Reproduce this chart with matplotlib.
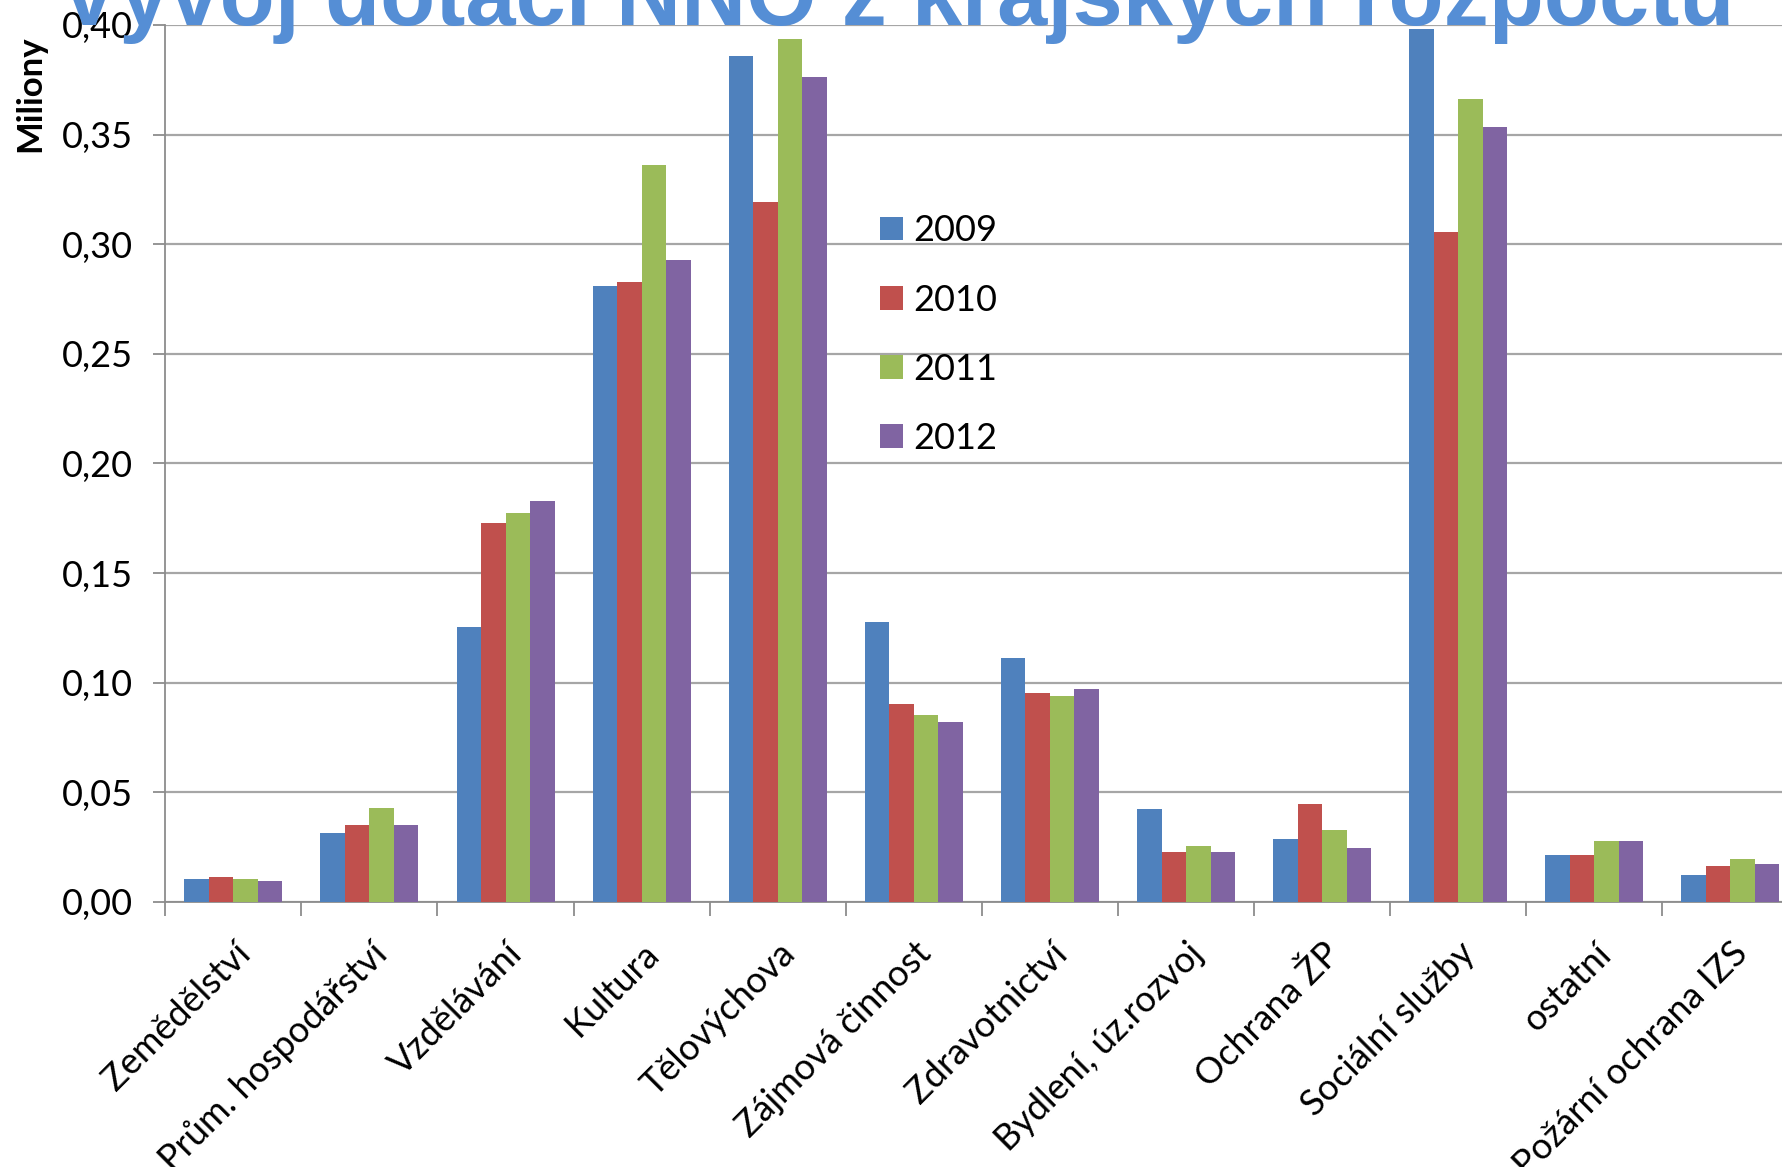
'''
Vyvoj dotaci NNO z krajskych rozpoctu - grouped bar chart
'''
import numpy as np
import matplotlib
matplotlib.use('Agg')
import matplotlib.pyplot as plt
from matplotlib.ticker import FuncFormatter

categories = ['Zemědělství', 'Prům. hospodářství', 'Vzdělávání', 'Kultura', 'Tělovýchova',
              'Zájmová činnost', 'Zdravotnictví', 'Bydlení, úz.rozvoj', 'Ochrana ŽP',
              'Sociální služby', 'ostatní', 'Požární ochrana IZS']
years = ['2009', '2010', '2011', '2012']

v2009 = [0.0103, 0.0315, 0.1253, 0.2810, 0.3856, 0.1277, 0.1115, 0.0425, 0.0287, 0.3983, 0.0216, 0.0124]
v2010 = [0.0116, 0.0352, 0.1730, 0.2826, 0.3194, 0.0904, 0.0951, 0.0229, 0.0445, 0.3056, 0.0216, 0.0166]
v2011 = [0.0103, 0.0427, 0.1775, 0.3360, 0.3934, 0.0851, 0.0938, 0.0257, 0.0328, 0.3660, 0.0280, 0.0194]
v2012 = [0.0096, 0.0352, 0.1827, 0.2930, 0.3763, 0.0823, 0.0973, 0.0229, 0.0244, 0.3535, 0.0280, 0.0173]

colors = ['#4F81BD', '#C0504D', '#9BBB59', '#8064A2']

plt.rcParams['font.family'] = ['Lato', 'DejaVu Sans']
FS = 26

W, H = 1782, 1167
fig = plt.figure(figsize=(W / 100, H / 100), dpi=100)
# axes run past the right edge of the picture, as in the cropped original
left, right = 165.3, 165.3 + 12 * 136.1
bottom, top = 902.0, 24.9
ax = fig.add_axes([left / W, 1 - bottom / H, (right - left) / W, (bottom - top) / H])

x = np.arange(len(categories))
bw = 0.18
series = [v2009, v2010, v2011, v2012]
for i, (vals, c, yr) in enumerate(zip(series, colors, years)):
    ax.bar(x + (i - 1.5) * bw, vals, bw, color=c, label=yr, zorder=3)

ax.set_xlim(-0.5, len(categories) - 0.5)
ax.set_ylim(0, 0.40)
ax.set_yticks(np.arange(0, 0.401, 0.05))
ax.yaxis.set_major_formatter(FuncFormatter(lambda v, p: f'{v:.2f}'.replace('.', ',')))
ax.grid(axis='y', color='#A6A6A6', linewidth=1.6, zorder=0)
ax.set_axisbelow(True)

for s in ['top', 'right']:
    ax.spines[s].set_visible(False)
for s in ['left', 'bottom']:
    ax.spines[s].set_color('#8C8C8C')
    ax.spines[s].set_linewidth(1.3)

ax.tick_params(axis='y', length=9, width=1.3, color='#8C8C8C', labelsize=FS, pad=14)
# boundary ticks as minor, labels on major
ax.set_xticks(x)
ax.set_xticks(np.arange(-0.5, len(categories)), minor=True)
ax.set_xticklabels(categories, rotation=45, ha='right', rotation_mode='anchor', fontsize=FS)
ax.tick_params(axis='x', which='major', length=0, pad=25)
ax.tick_params(axis='x', which='minor', length=10, width=1.3, color='#8C8C8C')

leg = ax.legend(loc='upper left', bbox_to_anchor=((866 - left) / (right - left), (bottom - 200) / (bottom - top)),
                frameon=False, fontsize=FS, handlelength=0.62, handleheight=0.62,
                handletextpad=0.3, labelspacing=1.0, borderaxespad=0)

fig.text(30 / W, 1 - 94 / H, 'Miliony', rotation=90, ha='center', va='center',
         fontsize=25, fontweight='bold')

fig.text(897 / W, 1 - 25 / H, 'Vývoj dotací NNO z krajských rozpočtů', ha='center', va='baseline',
         fontsize=65, fontweight='bold', color='#558ED5', family=['Liberation Sans', 'DejaVu Sans'],
         zorder=10)

fig.savefig('out.png', dpi=100)
